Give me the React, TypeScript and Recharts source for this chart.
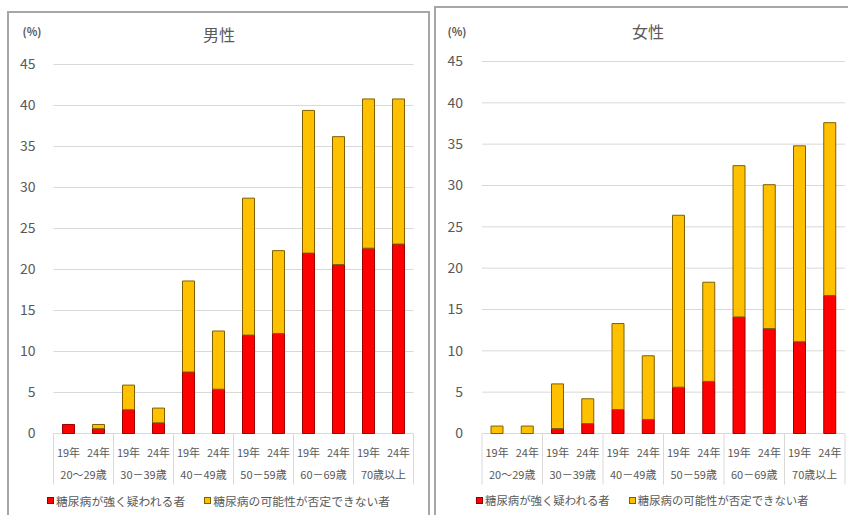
import { BarChart, Bar, XAxis, YAxis, CartesianGrid } from "recharts";

const YEARS = ["19年", "24年", "19年", "24年", "19年", "24年", "19年", "24年", "19年", "24年", "19年", "24年"];
const AGE_GROUPS = ["20～29歳", "30－39歳", "40－49歳", "50－59歳", "60－69歳", "70歳以上"];

// 糖尿病が強く疑われる者 / 糖尿病の可能性が否定できない者 (%)
const MALE_STRONG = [1.1, 0.6, 2.9, 1.3, 7.5, 5.4, 12.0, 12.2, 22.0, 20.6, 22.6, 23.1];
const MALE_POSSIBLE = [0, 0.5, 3.0, 1.8, 11.1, 7.1, 16.7, 10.1, 17.4, 15.6, 18.2, 17.7];
const FEMALE_STRONG = [0, 0, 0.6, 1.2, 2.9, 1.7, 5.6, 6.3, 14.1, 12.7, 11.1, 16.7];
const FEMALE_POSSIBLE = [0.9, 0.9, 5.4, 3.0, 10.4, 7.7, 20.8, 12.0, 18.3, 17.4, 23.7, 20.9];

const Y_TICKS = [0, 5, 10, 15, 20, 25, 30, 35, 40, 45];
const SERIES_NAMES = ["糖尿病が強く疑われる者", "糖尿病の可能性が否定できない者"];

const RED = "#ff0000";
const GOLD = "#ffc000";
const TEXT = "#595959";
const GRID = "#d9d9d9";
const FONT = "'Noto Sans CJK JP', 'Noto Sans', sans-serif";

function buildRows(strong: number[], possible: number[]) {
  return YEARS.map((year, i) => ({ year, strong: strong[i], possible: possible[i] }));
}

function GroupedTick(props: any) {
  const { x, y, payload, index, half } = props;
  return (
    <g fontFamily={FONT}>
      <text x={x} y={y + 18} textAnchor="middle" dominantBaseline="central" fontSize={11} fill={TEXT}>
        {payload.value}
      </text>
      {index % 2 === 0 && (
        <>
          <line x1={x - half} x2={x - half} y1={y} y2={y + 51} stroke={GRID} />
          <text x={x + half} y={y + 40} textAnchor="middle" dominantBaseline="central" fontSize={11} fill={TEXT}>
            {AGE_GROUPS[index / 2]}
          </text>
        </>
      )}
      {index === YEARS.length - 1 && (
        <line x1={x + half} x2={x + half} y1={y} y2={y + 51} stroke={GRID} />
      )}
    </g>
  );
}

function Legend(props: { left: number; gap: number; size: number }) {
  const colors = [
    { fill: RED, stroke: "#8b0000" },
    { fill: GOLD, stroke: "#7f6000" },
  ];
  return (
    <div
      style={{
        position: "absolute",
        left: props.left,
        top: 492,
        height: 16,
        display: "flex",
        alignItems: "center",
        gap: props.gap,
        fontFamily: FONT,
        fontSize: props.size,
        color: TEXT,
        whiteSpace: "nowrap",
      }}
    >
      {SERIES_NAMES.map((name, i) => (
        <div key={name} style={{ display: "flex", alignItems: "center" }}>
          <span
            style={{
              width: 5,
              height: 5,
              marginRight: 2,
              background: colors[i].fill,
              border: `1px solid ${colors[i].stroke}`,
            }}
          />
          <span>{name}</span>
        </div>
      ))}
    </div>
  );
}

function Panel(props: {
  left: number;
  width: number;
  top: number;
  yWidth: number;
  right: number;
  tickMargin: number;
  half: number;
  rows: any[];
}) {
  const bottom = 515 - 433.5;
  return (
    <div style={{ position: "absolute", left: props.left, top: 0 }}>
      <BarChart
        width={props.width}
        height={515}
        data={props.rows}
        margin={{ top: props.top, right: props.right, bottom: bottom - 60, left: 0 }}
        barSize={12}
      >
        <CartesianGrid vertical={false} stroke={GRID} />
        <XAxis
          dataKey="year"
          height={60}
          axisLine={false}
          tickLine={false}
          tickSize={0}
          tickMargin={0}
          interval={0}
          tick={(p: any) => <GroupedTick {...p} half={props.half} />}
        />
        <YAxis
          width={props.yWidth}
          domain={[0, 45]}
          ticks={Y_TICKS}
          axisLine={false}
          tickLine={false}
          tickMargin={props.tickMargin}
          tick={{ fill: TEXT, fontSize: 14, fontFamily: FONT }}
        />
        <Bar dataKey="strong" stackId="a" fill={RED} stroke="#9a0000" strokeWidth={1} isAnimationActive={false} />
        <Bar dataKey="possible" stackId="a" fill={GOLD} stroke="#7f6000" strokeWidth={1} isAnimationActive={false} />
      </BarChart>
    </div>
  );
}

function Label(props: { x: number; y: number; size: number; text: string; bold?: boolean }) {
  return (
    <div
      style={{
        position: "absolute",
        left: props.x - 50,
        top: props.y - 10,
        width: 100,
        height: 20,
        lineHeight: "20px",
        textAlign: "center",
        fontFamily: FONT,
        fontSize: props.size,
        fontWeight: props.bold ? 700 : 400,
        color: TEXT,
      }}
    >
      {props.text}
    </div>
  );
}

export default function App() {
  return (
    <div
      style={{
        position: "absolute",
        left: 0,
        top: 0,
        width: 848,
        height: 515,
        overflow: "hidden",
        background: "#fff",
      }}
    >
      <div
        style={{
          position: "absolute",
          left: 7,
          top: 11,
          width: 419,
          height: 600,
          border: "2px solid #a6a6a6",
        }}
      />
      <div
        style={{
          position: "absolute",
          left: 434,
          top: 6,
          width: 500,
          height: 600,
          border: "2px solid #a6a6a6",
        }}
      />
      <Panel
        left={0}
        width={430}
        top={64.5}
        yWidth={53.5}
        right={16.5}
        tickMargin={12}
        half={15}
        rows={buildRows(MALE_STRONG, MALE_POSSIBLE)}
      />
      <Panel
        left={430}
        width={418}
        top={61.5}
        yWidth={52}
        right={3}
        tickMargin={13}
        half={15.1}
        rows={buildRows(FEMALE_STRONG, FEMALE_POSSIBLE)}
      />
      <Label x={219} y={34} size={16} text="男性" />
      <Label x={32} y={31} size={11} text="(%)" bold />
      <Label x={648} y={31} size={16} text="女性" />
      <Label x={457} y={31} size={11} text="(%)" bold />
      <Legend left={47} gap={19} size={11.8} />
      <Legend left={476} gap={19} size={11.4} />
    </div>
  );
}
